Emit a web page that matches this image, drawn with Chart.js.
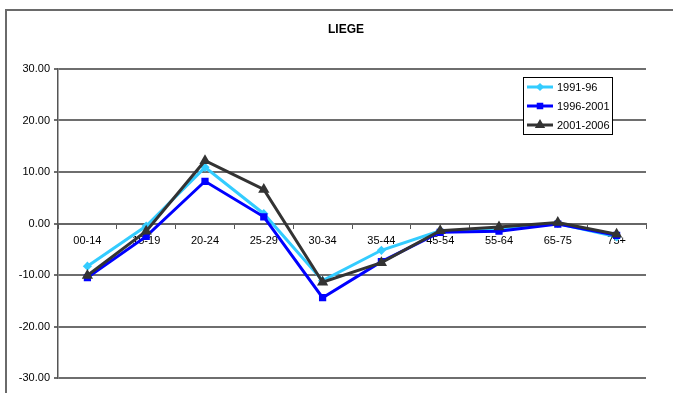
<!DOCTYPE html>
<html>
<head>
<meta charset="utf-8">
<script src="https://cdn.jsdelivr.net/npm/chart.js@4/dist/chart.umd.min.js"></script>
<style>
  html, body { margin: 0; padding: 0; background: #fff; overflow: hidden; }
  #wrap { position: relative; width: 673px; height: 393px; }
  #frame { position: absolute; left: 5px; top: 9px; width: 1000px; height: 1000px;
           border: 2px solid #6a6a6a; pointer-events: none; }
</style>
</head>
<body>
<div id="wrap">
  <canvas id="liegeChart"></canvas>
  <div id="frame"></div>
</div>
<script>
const ageGroups = ["00-14", "15-19", "20-24", "25-29", "30-34", "35-44", "45-54", "55-64", "65-75", "75+"];
const period1 = [-8.3, -0.5, 10.9, 1.9, -11.1, -5.2, -1.4, -1.2, 0.0, -2.6];
const period2 = [-10.5, -2.5, 8.2, 1.3, -14.4, -7.4, -1.7, -1.5, -0.1, -2.3];
const period3 = [-10.1, -1.5, 12.2, 6.6, -11.4, -7.6, -1.4, -0.7, 0.2, -2.1];
const seriesNames = ["1991-96", "1996-2001", "2001-2006"];
const yTicks = [30, 20, 10, 0, -10, -20, -30];

document.addEventListener("DOMContentLoaded", function () {
    const ctx = document.getElementById("liegeChart").getContext("2d");

    // the excel title sits centred on the whole frame, not the padded area
    const titleShift = {
        id: "titleShift",
        afterLayout(chart) {
            if (chart.titleBlock) {
                chart.titleBlock.left += 23;
                chart.titleBlock.right += 23;
            }
        }
    };

    // legend box drawn inside the plot, like the excel original
    const boxLegend = {
        id: "boxLegend",
        afterDraw(chart) {
            const c = chart.ctx;
            const x = 523, y = 77, w = 89, h = 57;
            c.save();
            c.fillStyle = "#fff";
            c.fillRect(x, y, w, h);
            c.strokeStyle = "#000";
            c.lineWidth = 1;
            c.strokeRect(x + 0.5, y + 0.5, w, h);
            c.font = "11px 'Liberation Sans', Arial, sans-serif";
            c.textBaseline = "middle";
            chart.data.datasets.forEach(function (ds, i) {
                const ry = y + 10 + i * 19;
                c.strokeStyle = ds.borderColor;
                c.lineWidth = 3;
                c.beginPath();
                c.moveTo(x + 4, ry);
                c.lineTo(x + 30, ry);
                c.stroke();
                c.fillStyle = ds.borderColor;
                Chart.helpers.drawPoint(c, {
                    pointStyle: ds.pointStyle, radius: ds.pointRadius - 0.5, borderWidth: 1
                }, x + 17, ry);
                c.fillStyle = "#000";
                c.fillText(ds.label, x + 34, ry + 1);
            });
            c.restore();
        }
    };

    new Chart(ctx, {
        type: "line",
        data: {
            labels: ageGroups,
            datasets: [
                {
                    label: seriesNames[0], data: period1, order: 3,
                    borderColor: "#33ccff", backgroundColor: "#33ccff",
                    pointStyle: "rectRot", pointRadius: 2.5, borderWidth: 3
                },
                {
                    label: seriesNames[1], data: period2, order: 2,
                    borderColor: "#0000ff", backgroundColor: "#0000ff",
                    pointStyle: "rect", pointRadius: 3, borderWidth: 3
                },
                {
                    label: seriesNames[2], data: period3, order: 1,
                    borderColor: "#333333", backgroundColor: "#333333",
                    pointStyle: "triangle", pointRadius: 3.5, borderWidth: 3
                }
            ]
        },
        options: {
            responsive: true,
            maintainAspectRatio: false,
            animation: false,
            layout: { padding: { left: 0, right: 27, top: 0, bottom: 15 } },
            plugins: {
                legend: { display: false },
                tooltip: { enabled: false },
                title: {
                    display: true,
                    text: "LIEGE",
                    color: "#000",
                    font: { family: "'Liberation Sans', Arial, sans-serif", size: 12, weight: "bold" },
                    padding: { top: 22, bottom: 32.6 }
                }
            },
            scales: {
                x: {
                    position: { y: 0 },
                    offset: true,
                    grid: { drawOnChartArea: false, drawTicks: true, tickLength: 4, color: "#555", offset: true },
                    border: { display: true, color: "#666", width: 2 },
                    ticks: {
                        color: "#000", padding: 7, maxRotation: 0, autoSkip: false,
                        font: { family: "'Liberation Sans', Arial, sans-serif", size: 11 }
                    }
                },
                y: {
                    min: -30, max: 30,
                    afterFit: function (scale) { scale.width = 58; },
                    afterBuildTicks: function (scale) {
                        scale.ticks = yTicks.map(function (v) { return { value: v }; });
                    },
                    grid: { color: "#6e6e6e", lineWidth: 2, tickLength: 4 },
                    border: { color: "#555", width: 1.5 },
                    ticks: {
                        color: "#000", padding: 4,
                        font: { family: "'Liberation Sans', Arial, sans-serif", size: 11 },
                        callback: function (v) { return Number(v).toFixed(2); }
                    }
                }
            }
        },
        plugins: [titleShift, boxLegend]
    });
});
</script>
</body>
</html>
